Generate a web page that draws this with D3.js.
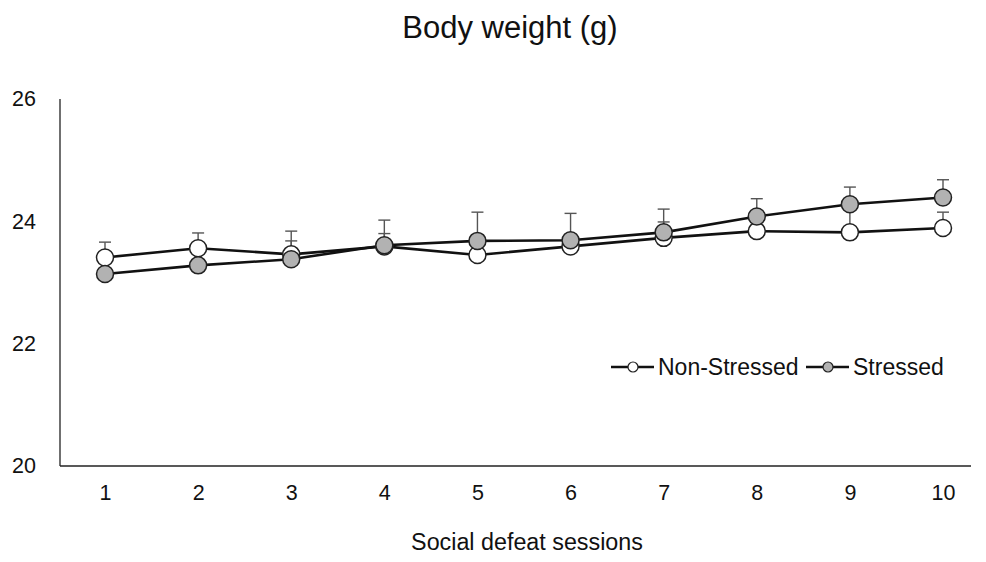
<!DOCTYPE html>
<html>
<head>
<meta charset="utf-8">
<title>Body weight</title>
<script src="https://cdn.jsdelivr.net/npm/d3@7"></script>
<style>
  body { margin: 0; background: #fff; }
  text { font-family: "Liberation Sans", Arial, sans-serif; fill: #111; }
</style>
</head>
<body>
<div id="chart"></div>
<script>
// values
var sessions = [1, 2, 3, 4, 5, 6, 7, 8, 9, 10];
var nonStressed = [23.41, 23.56, 23.46, 23.59, 23.45, 23.59, 23.73, 23.84, 23.82, 23.89];
var nonStressedErr = [0.25, 0.25, 0.38, 0.21, 0.2, 0.2, 0.26, 0.2, 0.4, 0.26];
var stressed = [23.14, 23.28, 23.38, 23.61, 23.68, 23.69, 23.82, 24.08, 24.28, 24.39];
var stressedErr = [0.2, 0.2, 0.3, 0.41, 0.47, 0.44, 0.38, 0.29, 0.28, 0.29];
var yTicks = [20, 22, 24, 26];

var W = 986, H = 562;
var svg = d3.select('#chart').append('svg').attr('width', W).attr('height', H);

var x = d3.scalePoint().domain(sessions).range([105, 943]);
var y = d3.scaleLinear().domain([20, 26]).range([466, 99]);

// axes, plain lines with no tick marks
var xAxis = svg.append('g').attr('transform', 'translate(0,466)')
    .call(d3.axisBottom(x).tickSize(0).tickPadding(19));
xAxis.select('.domain').attr('d', 'M60,0H971');
var yAxis = svg.append('g').attr('transform', 'translate(60,0)')
    .call(d3.axisLeft(y).tickValues(yTicks).tickFormat(d3.format('d')).tickSize(0).tickPadding(24));
yAxis.select('.domain').attr('d', 'M0,99V466');
svg.selectAll('.domain').attr('stroke', '#222').attr('stroke-width', 1.3);
svg.selectAll('.tick text').attr('font-size', 21.5).attr('fill', '#111')
    .attr('font-family', '"Liberation Sans", Arial, sans-serif');

svg.append('text').attr('x', 510).attr('y', 38).attr('text-anchor', 'middle')
    .attr('font-size', 31).text('Body weight (g)');
svg.append('text').attr('x', 527).attr('y', 550).attr('text-anchor', 'middle')
    .attr('font-size', 23.3).text('Social defeat sessions');

var series = [
  {name: 'Non-Stressed', vals: nonStressed, err: nonStressedErr, fill: '#fff'},
  {name: 'Stressed', vals: stressed, err: stressedErr, fill: '#b2b2b2'}
];

// error bars first so markers sit on top
series.forEach(function(s){
  var g = svg.append('g').attr('stroke', '#555').attr('stroke-width', 1.4);
  sessions.forEach(function(d, i){
    var top = y(s.vals[i] + s.err[i]);
    g.append('line').attr('x1', x(d)).attr('x2', x(d)).attr('y1', y(s.vals[i])).attr('y2', top);
    g.append('line').attr('x1', x(d) - 6).attr('x2', x(d) + 6).attr('y1', top).attr('y2', top);
  });
});

var line = d3.line().x(function(d, i){ return x(sessions[i]); }).y(function(d){ return y(d); });
series.forEach(function(s){
  svg.append('path').datum(s.vals).attr('d', line)
     .attr('fill', 'none').attr('stroke', '#111').attr('stroke-width', 2.6);
});
series.forEach(function(s){
  svg.append('g').selectAll('circle').data(s.vals).enter().append('circle')
     .attr('cx', function(d, i){ return x(sessions[i]); })
     .attr('cy', function(d){ return y(d); })
     .attr('r', 8.5)
     .attr('fill', s.fill).attr('stroke', '#222').attr('stroke-width', 1.5);
});

// legend
var legX = [611, 806];
series.forEach(function(s, i){
  var g = svg.append('g').attr('transform', 'translate(' + legX[i] + ',367)');
  g.append('line').attr('x1', 0).attr('x2', 43).attr('stroke', '#111').attr('stroke-width', 2.6);
  g.append('circle').attr('cx', 22).attr('r', 5).attr('fill', s.fill)
   .attr('stroke', '#222').attr('stroke-width', 1.2);
  g.append('text').attr('x', 47).attr('y', 8).attr('font-size', 23).text(s.name);
});
</script>
</body>
</html>
